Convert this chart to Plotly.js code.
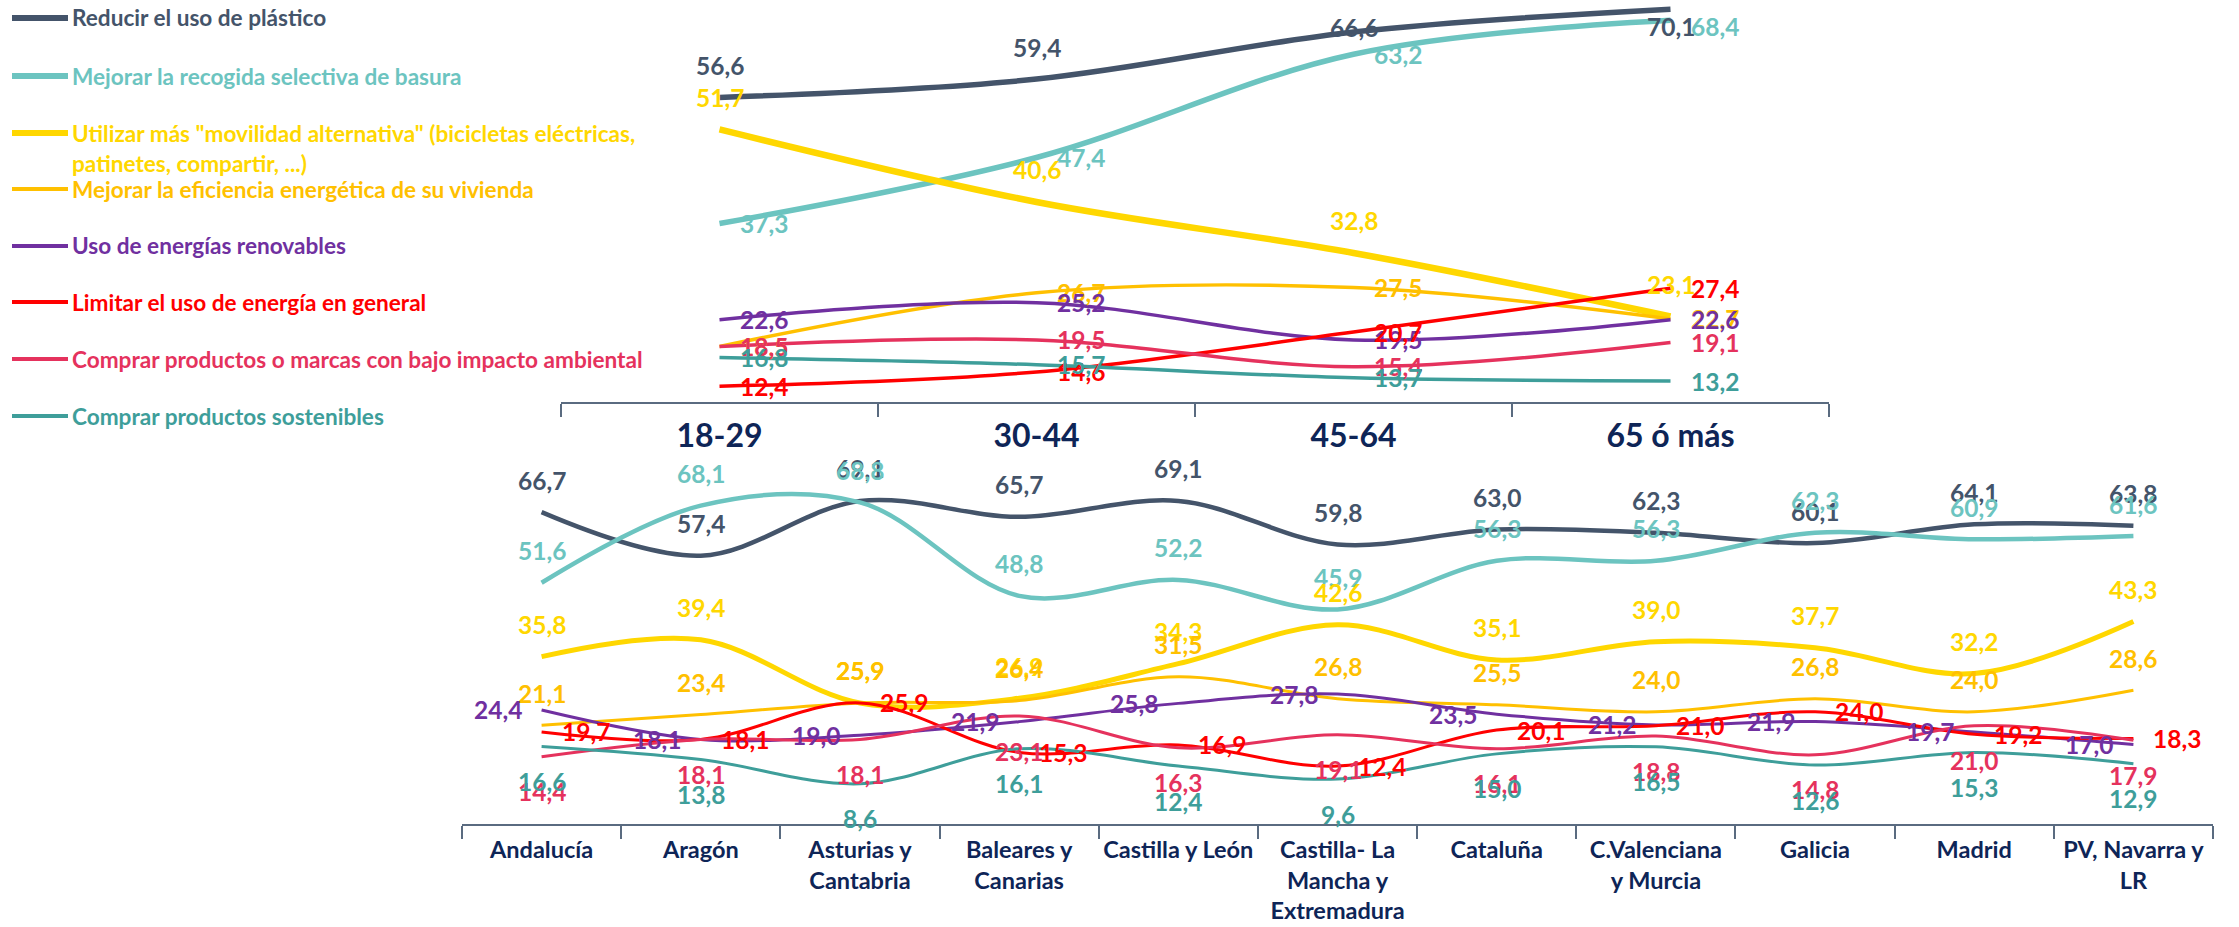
<!DOCTYPE html>
<html><head><meta charset="utf-8">
<script src="https://cdn.plot.ly/plotly-3.0.1.min.js"></script>
<style>html,body{margin:0;padding:0;background:#fff;overflow:hidden}#chart{width:2239px;height:927px}</style>
</head><body><div id="chart"></div>
<script>
// ---------- DATA ----------
const seriesNames = [
  'Reducir el uso de plástico',
  'Mejorar la recogida selectiva de basura',
  'Utilizar más "movilidad alternativa" (bicicletas eléctricas, patinetes, compartir, ...)',
  'Mejorar la eficiencia energética de su vivienda',
  'Uso de energías renovables',
  'Limitar el uso de energía en general',
  'Comprar productos o marcas con bajo impacto ambiental',
  'Comprar productos sostenibles'
];
const legendLabels = [
  ['Reducir el uso de plástico'],
  ['Mejorar la recogida selectiva de basura'],
  ['Utilizar más "movilidad alternativa" (bicicletas eléctricas,', 'patinetes, compartir, ...)'],
  ['Mejorar la eficiencia energética de su vivienda'],
  ['Uso de energías renovables'],
  ['Limitar el uso de energía en general'],
  ['Comprar productos o marcas con bajo impacto ambiental'],
  ['Comprar productos sostenibles']
];
const ageGroups = ['18-29', '30-44', '45-64', '65 ó más'];
const regions = ['Andalucía', 'Aragón', 'Asturias y Cantabria', 'Baleares y Canarias', 'Castilla y León',
  'Castilla- La Mancha y Extremadura', 'Cataluña', 'C.Valenciana y Murcia', 'Galicia', 'Madrid', 'PV, Navarra y LR'];
const regionTickLabels = ['Andalucía', 'Aragón', 'Asturias y<br>Cantabria', 'Baleares y<br>Canarias', 'Castilla y León',
  'Castilla- La<br>Mancha y<br>Extremadura', 'Cataluña', 'C.Valenciana<br>y Murcia', 'Galicia', 'Madrid', 'PV, Navarra y<br>LR'];

// by age
const plasticoEdad     = [56.6, 59.4, 66.6, 70.1];
const recogidaEdad     = [37.3, 47.4, 63.2, 68.4];
const movilidadEdad    = [51.7, 40.6, 32.8, 23.1];
const eficienciaEdad   = [18.5, 26.7, 27.5, 22.7];
const renovablesEdad   = [22.6, 25.2, 19.5, 22.6];
const limitarEdad      = [12.4, 14.6, 20.7, 27.4];
const bajoImpactoEdad  = [18.5, 19.5, 15.4, 19.1];
const sosteniblesEdad  = [16.8, 15.7, 13.7, 13.2];

// by region
const plasticoReg     = [66.7, 57.4, 69.1, 65.7, 69.1, 59.8, 63.0, 62.3, 60.1, 64.1, 63.8];
const recogidaReg     = [51.6, 68.1, 68.8, 48.8, 52.2, 45.9, 56.3, 56.3, 62.3, 60.9, 61.6];
const movilidadReg    = [35.8, 39.4, 25.9, 26.9, 34.3, 42.6, 35.1, 39.0, 37.7, 32.2, 43.3];
const eficienciaReg   = [21.1, 23.4, 25.9, 26.4, 31.5, 26.8, 25.5, 24.0, 26.8, 24.0, 28.6];
const renovablesReg   = [24.4, 18.1, 19.0, 21.9, 25.8, 27.8, 23.5, 21.2, 21.9, 19.7, 17.0];
const limitarReg      = [19.7, 18.1, 25.9, 15.3, 16.9, 12.4, 20.1, 21.0, 24.0, 19.2, 18.3];
const bajoImpactoReg  = [14.4, 18.1, 18.1, 23.1, 16.3, 19.1, 16.1, 18.8, 14.8, 21.0, 17.9];
const sosteniblesReg  = [16.6, 13.8, 8.6, 16.1, 12.4, 9.6, 15.0, 16.5, 12.6, 15.3, 12.9];

// ---------- STYLE ----------
const W = 2239, H = 927;
const FONT = 'Lato, "Open Sans", sans-serif';
const NAVY = '#0E2557';
const AXIS = '#5A6B80';
const colors = ['#44546A', '#6CC4C0', '#FFD700', '#FFC000', '#7030A0', '#FF0000', '#E5325D', '#3E9E9A'];
const widthTop = [5.5, 5.5, 6.5, 3.5, 3.5, 3.5, 3.5, 3.5];
const widthBottom = [4.5, 4.5, 5, 3, 3, 3, 3, 3];
const legendWidth = [6, 6, 6, 4, 4, 4, 4, 4];
const topLabelPos = ['A', 'R', 'A', 'R', 'R', 'R', 'R', 'R'];
const bottomLabelPos = ['A', 'A', 'A', 'A', 'L', 'R', 'B', 'B'];

const ageData = [plasticoEdad, recogidaEdad, movilidadEdad, eficienciaEdad, renovablesEdad, limitarEdad, bajoImpactoEdad, sosteniblesEdad];
const regData = [plasticoReg, recogidaReg, movilidadReg, eficienciaReg, renovablesReg, limitarReg, bajoImpactoReg, sosteniblesReg];

// geometry (pixels)
const topX0 = 561, topX1 = 1829, topAxisY = 402, topRange = [10, 71.5];
const botX0 = 462, botX1 = 2213, botAxisY = 824, botTopY = 450, botRange = [0, 80];

const fmt = v => v.toFixed(1).replace('.', ',');
const posStyle = {
  A: {xanchor: 'center', yanchor: 'middle', xshift: 0, yshift: 32},
  B: {xanchor: 'center', yanchor: 'middle', xshift: 0, yshift: -35},
  L: {xanchor: 'right', yanchor: 'middle', xshift: -19, yshift: 0},
  R: {xanchor: 'left', yanchor: 'middle', xshift: 19, yshift: 0}
};
const LABEL_SIZE = 24.5;

const traces = [];
const annotations = [];
const shapes = [];

seriesNames.forEach((name, s) => {
  traces.push({
    type: 'scatter', mode: 'lines', name: name, x: ageGroups, y: ageData[s],
    xaxis: 'x', yaxis: 'y', line: {color: colors[s], width: widthTop[s], shape: 'spline', smoothing: 1},
    cliponaxis: false, showlegend: false, hoverinfo: 'x+y+name'
  });
  traces.push({
    type: 'scatter', mode: 'lines', name: name, x: regions, y: regData[s],
    xaxis: 'x2', yaxis: 'y2', line: {color: colors[s], width: widthBottom[s], shape: 'spline', smoothing: 1},
    cliponaxis: false, showlegend: false, hoverinfo: 'x+y+name'
  });
});

// data labels
seriesNames.forEach((name, s) => {
  ageGroups.forEach((c, i) => {
    const v = ageData[s][i];
    const st = Object.assign({}, posStyle[topLabelPos[s]]);
    const py = topAxisY * (topRange[1] - v) / (topRange[1] - topRange[0]);
    if (py - st.yshift < 27) st.yshift = py - 27;   // keep inside chart area
    annotations.push(Object.assign({
      xref: 'x', yref: 'y', x: c, y: v, text: fmt(v), showarrow: false, borderpad: 0,
      font: {family: FONT, size: LABEL_SIZE, color: colors[s], weight: 700}
    }, st));
  });
});
seriesNames.forEach((name, s) => {
  regions.forEach((c, i) => {
    const v = regData[s][i];
    annotations.push(Object.assign({
      xref: 'x2', yref: 'y2', x: c, y: v, text: fmt(v), showarrow: false, borderpad: 0,
      font: {family: FONT, size: LABEL_SIZE, color: colors[s], weight: 700}
    }, posStyle[bottomLabelPos[s]]));
  });
});

// legend (left column)
const legendY = [18, 76, 133, 189, 246, 302, 359, 416];
legendLabels.forEach((lines, s) => {
  const y = legendY[s];
  shapes.push({type: 'line', xref: 'paper', yref: 'paper', x0: 12 / W, x1: 68 / W,
    y0: 1 - y / H, y1: 1 - y / H, line: {color: colors[s], width: legendWidth[s]}});
  lines.forEach((t, k) => {
    annotations.push({xref: 'paper', yref: 'paper', x: 71 / W, y: 1 - (y + k * 31) / H,
      xanchor: 'left', yanchor: 'middle', text: t, showarrow: false, borderpad: 0,
      font: {family: FONT, size: 22.6, color: colors[s], weight: 700}});
  });
});

const axisCommon = {
  type: 'category', showline: true, linecolor: AXIS, linewidth: 2,
  ticks: 'outside', tickson: 'boundaries', ticklen: 13, tickwidth: 2, tickcolor: AXIS,
  showgrid: false, zeroline: false, fixedrange: true, tickangle: 0
};
const hiddenY = {showline: false, showgrid: false, zeroline: false, showticklabels: false, ticks: '', fixedrange: true};

const layout = {
  width: W, height: H, margin: {l: 0, r: 0, t: 0, b: 0},
  paper_bgcolor: '#ffffff', plot_bgcolor: 'rgba(0,0,0,0)', showlegend: false,
  font: {family: FONT},
  xaxis: Object.assign({}, axisCommon, {domain: [topX0 / W, topX1 / W], anchor: 'y',
    range: [-0.5, ageGroups.length - 0.5], categoryarray: ageGroups, ticklabelstandoff: 5,
    tickfont: {family: FONT, size: 32, color: NAVY, weight: 700}}),
  yaxis: Object.assign({}, hiddenY, {domain: [1 - topAxisY / H, 1], range: topRange, anchor: 'x'}),
  xaxis2: Object.assign({}, axisCommon, {domain: [botX0 / W, botX1 / W], anchor: 'y2',
    range: [-0.5, regions.length - 0.5], categoryarray: regions, ticklabelstandoff: 4,
    tickmode: 'array', tickvals: regions, ticktext: regionTickLabels,
    tickfont: {family: FONT, size: 23.5, color: NAVY, weight: 700}}),
  yaxis2: Object.assign({}, hiddenY, {domain: [1 - botAxisY / H, 1 - botTopY / H], range: botRange, anchor: 'x2'}),
  annotations: annotations,
  shapes: shapes
};

Plotly.newPlot('chart', traces, layout, {displayModeBar: false, staticPlot: true});
</script>
</body></html>
